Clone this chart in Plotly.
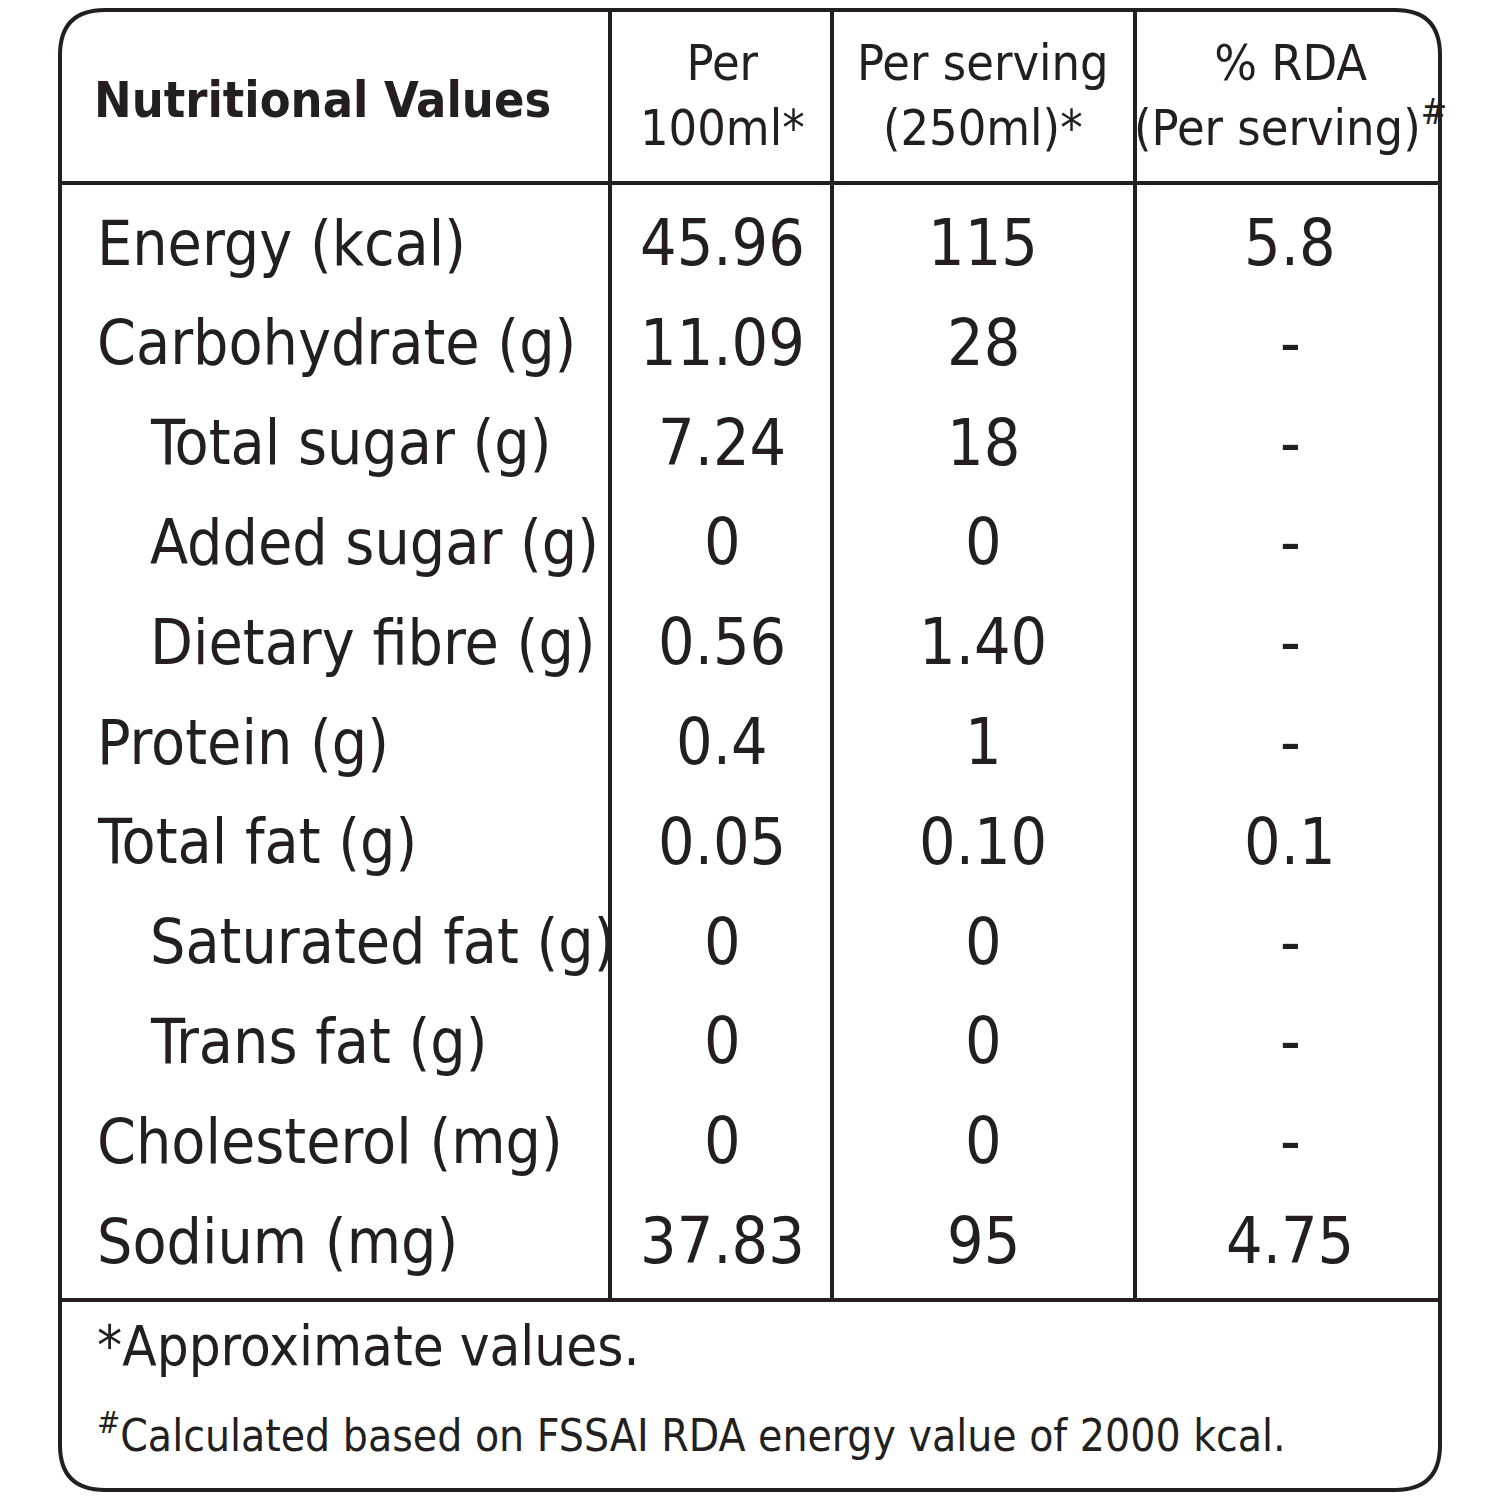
import plotly.graph_objects as go

# table content
nutrients = ["Energy (kcal)", "Carbohydrate (g)", "Total sugar (g)", "Added sugar (g)",
             "Dietary fibre (g)", "Protein (g)", "Total fat (g)", "Saturated fat (g)",
             "Trans fat (g)", "Cholesterol (mg)", "Sodium (mg)"]
indented = [False, False, True, True, True, False, False, True, True, False, False]
per_100ml = ["45.96", "11.09", "7.24", "0", "0.56", "0.4", "0.05", "0", "0", "0", "37.83"]
per_serving = ["115", "28", "18", "0", "1.40", "1", "0.10", "0", "0", "0", "95"]
rda = ["5.8", "-", "-", "-", "-", "-", "0.1", "-", "-", "-", "4.75"]
headers = ["<b>Nutritional Values</b>", "Per<br>100ml*", "Per serving<br>(250ml)*",
           "% RDA<br>(Per serving)<sup>#</sup>"]
footnotes = ["*Approximate values.",
             "<sup>#</sup>Calculated based on FSSAI RDA energy value of 2000 kcal."]

FONT = "DejaVu Sans Condensed, Liberation Sans Narrow, sans-serif"
col_x = [722, 983, 1290]
row_y = [243 + 99.8 * i for i in range(len(nutrients))]

fig = go.Figure()
ann = []
for i, name in enumerate(nutrients):
    ann.append(dict(x=148 if indented[i] else 95, y=row_y[i], text=name, xanchor="left",
                    font=dict(size=62)))
    for cx, vals in zip(col_x, [per_100ml, per_serving, rda]):
        ann.append(dict(x=cx, y=row_y[i], text=vals[i], xanchor="center", font=dict(size=64)))

ann.append(dict(x=92, y=100, text=headers[0], xanchor="left", font=dict(size=50)))
for cx, h in zip([722, 983, 1290], headers[1:]):
    ann.append(dict(x=cx, y=95, text=h, xanchor="center", font=dict(size=50)))
ann.append(dict(x=95, y=1345, text=footnotes[0], xanchor="left", font=dict(size=56)))
ann.append(dict(x=95, y=1432, text=footnotes[1], xanchor="left", font=dict(size=44)))
for a in ann:
    a.update(xref="x", yref="y", showarrow=False, yanchor="middle")
    a["font"].update(family=FONT, color="#231f20")

line = dict(color="#231f20", width=4)
r = 45
x0, x1, y0, y1 = 60, 1440, 10, 1490
path = (f"M {x0+r},{y0} L {x1-r},{y0} Q {x1},{y0} {x1},{y0+r} L {x1},{y1-r} "
        f"Q {x1},{y1} {x1-r},{y1} L {x0+r},{y1} Q {x0},{y1} {x0},{y1-r} "
        f"L {x0},{y0+r} Q {x0},{y0} {x0+r},{y0} Z")
shapes = [dict(type="path", path=path, line=line)]
shapes += [dict(type="line", x0=x0, x1=x1, y0=yy, y1=yy, line=line) for yy in (183, 1300)]
shapes += [dict(type="line", x0=xx, x1=xx, y0=y0, y1=1300, line=line) for xx in (610, 832, 1135)]
for s in shapes:
    s.update(xref="x", yref="y")

# page body has an 8px margin, so shift the ranges to keep pixel coordinates
fig.update_layout(width=1500, height=1500, margin=dict(l=0, r=0, t=0, b=0),
                  paper_bgcolor="white", plot_bgcolor="white",
                  annotations=ann, shapes=shapes, showlegend=False,
                  xaxis=dict(range=[8, 1508], visible=False),
                  yaxis=dict(range=[1508, 8], visible=False))
fig.write_html("out.html")
